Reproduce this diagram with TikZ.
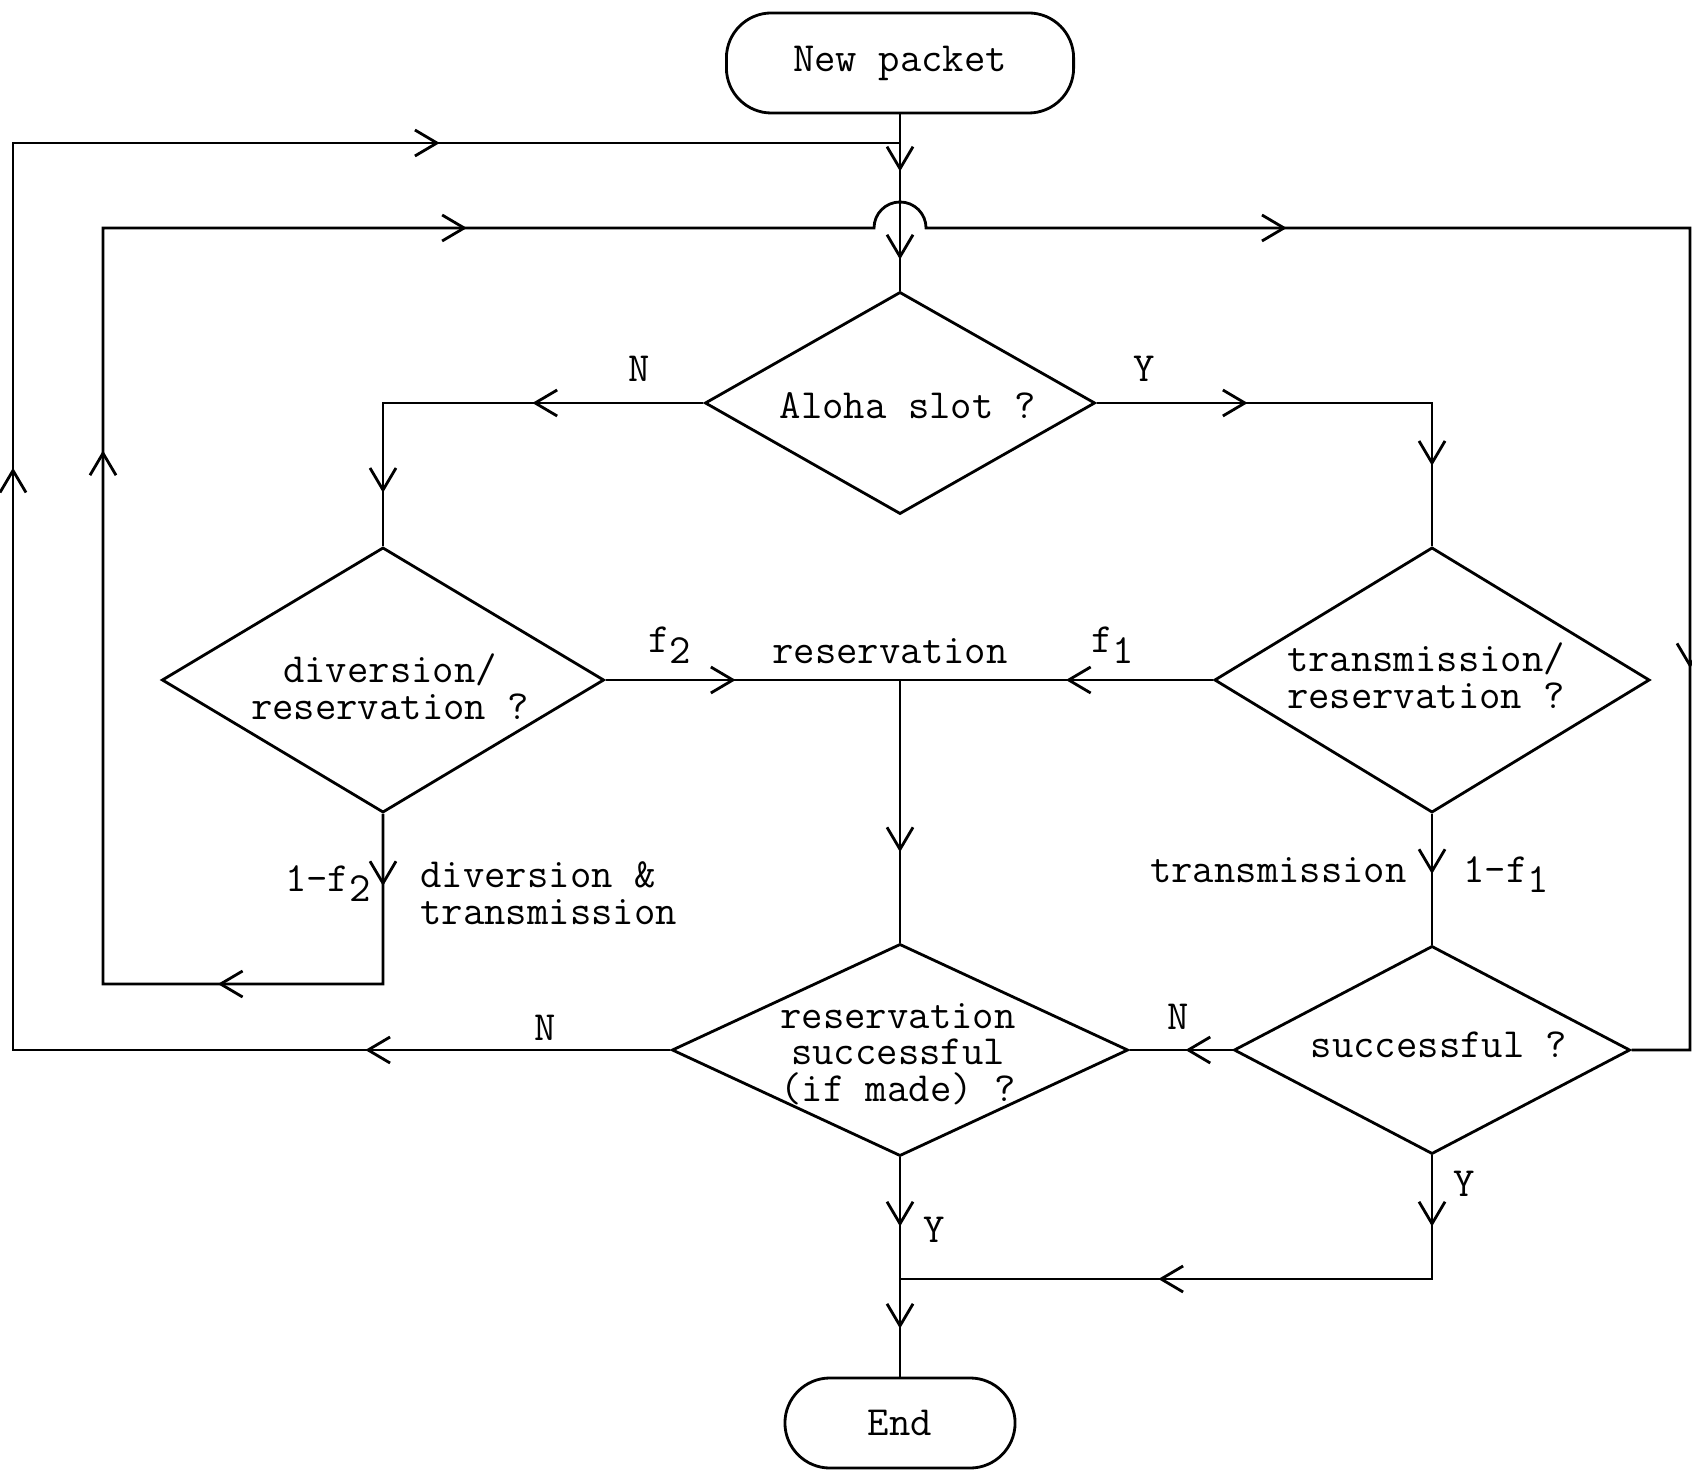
\documentclass[tikz,border=0pt]{standalone}
\usepackage{fontspec}
\usepackage{tikz}
\usetikzlibrary{
    arrows.meta,
    decorations.markings,
    positioning,
    shapes.geometric,
}
\tikzstyle{decision}=[diamond, draw, inner sep=0pt]
\tikzstyle{terminal}=[rectangle, draw, rounded corners=4.5mm, inner sep=0pt]
\tikzset{tipat/.style={postaction={decorate, decoration={markings, mark=at position #1 with {\arrow{Straight Barb[length=2.2mm, width=2.6mm]}}}}}}
\tikzset{every picture/.style={line width=0.8pt}}
\newcommand{\lowsub}[1]{\raisebox{-0.6ex}{#1}}

\begin{document}
\begin{tikzpicture}[x=0.01cm, y=-0.01cm, every node/.style={inner sep=0pt, font=\fontsize{11.8}{10.4}\selectfont\ttfamily}]
            \useasboundingbox (0,0) rectangle (1692,1471);
            \node[terminal, minimum width=3.47cm, minimum height=1.0cm] (newpacket) at (900,63) {New packet};
            \node[decision, minimum width=3.9cm, minimum height=2.22cm] (aloha) at (900,403) {};
            \node[decision, minimum width=4.42cm, minimum height=2.65cm] (diversion) at (383,680) {};
            \node[decision, minimum width=4.35cm, minimum height=2.65cm] (transres) at (1432,680) {};
            \node[decision, minimum width=4.56cm, minimum height=2.12cm] (resok) at (900,1050) {};
            \node[decision, minimum width=3.96cm, minimum height=2.08cm] (successful) at (1432,1050) {};
            \node[terminal, minimum width=2.3cm, minimum height=0.9cm] (done) at (900,1423) {End};
            \node (alohatext) at (908,406) {Aloha slot ?};
            \node[align=center] (diversiontext) at (390,687) {diversion/\\reservation ?};
            \node[align=center] (transrestext) at (1426,676) {transmission/\\reservation ?};
            \node[align=center] (resoktext) at (898,1054) {reservation\\successful\\(if made) ?};
            \node (successfultext) at (1439,1045) {successful ?};
            \coordinate (outerjoin) at (900,143);
            \coordinate (outerleft) at (13,143);
            \coordinate (divdrop) at (383,984);
            \coordinate (innerleft) at (103,228);
            \coordinate (jumpstart) at (874,228);
            \coordinate (innerright) at (1690,228);
            \coordinate (resjoin) at (900,680);
            \coordinate (endjoin) at (900,1279);
            \draw[tipat=0.57cm, tipat=1.45cm] (newpacket) -- (aloha);
            \draw[tipat=3.05cm, tipat=12.39cm, tipat=19.90cm] (resok.west) -| (outerleft) -- (outerjoin);
            \draw[tipat=0.72cm, tipat=3.35cm, tipat=9.83cm, tipat=15.69cm, tipat=24.18cm, tipat=32.61cm] (diversion.south) -- (divdrop) -| (innerleft) -- (jumpstart) arc[start angle=180, end angle=0, radius=0.26cm] -- (innerright) |- (successful.east);
            \draw[tipat=1.71cm, tipat=4.10cm] (aloha.west) -| (diversion.north);
            \draw[tipat=1.51cm, tipat=3.98cm] (aloha.east) -| (transres.north);
            \draw[tipat=1.30cm] (diversion.east) -- (resjoin);
            \draw[tipat=1.47cm] (transres.west) -- (resjoin);
            \draw[tipat=1.72cm] (resjoin) -- (resok.north);
            \draw[tipat=0.60cm] (transres.south) -- (successful.north);
            \draw[tipat=0.47cm] (successful.west) -- (resok.east);
            \draw[tipat=0.69cm, tipat=1.71cm] (resok.south) -- (done.north);
            \draw[tipat=0.71cm, tipat=3.97cm] (successful.south) |- (endjoin);
            \node (alohano) at (639,369) {N};
            \node (alohayes) at (1144,369) {Y};
            \node[anchor=base west] (ftwo) at (647,653) {f\lowsub{2}};
            \node[anchor=base west] (reslabel) at (771,664) {reservation};
            \node[anchor=base west] (fone) at (1090,653) {f\lowsub{1}};
            \node[anchor=base east] (onemftwo) at (372,891) {1-f\lowsub{2}};
            \node[anchor=west, align=left] (divtrans) at (419,893) {diversion \&\\transmission};
            \node[anchor=base east] (translabel) at (1408,882) {transmission};
            \node[anchor=base west] (onemfone) at (1462,882) {1-f\lowsub{1}};
            \node (resokno) at (545,1028) {N};
            \node (successfulno) at (1178,1017) {N};
            \node (successfulyes) at (1464,1184) {Y};
            \node (resokyes) at (934,1230) {Y};
        \end{tikzpicture}
\end{document}
